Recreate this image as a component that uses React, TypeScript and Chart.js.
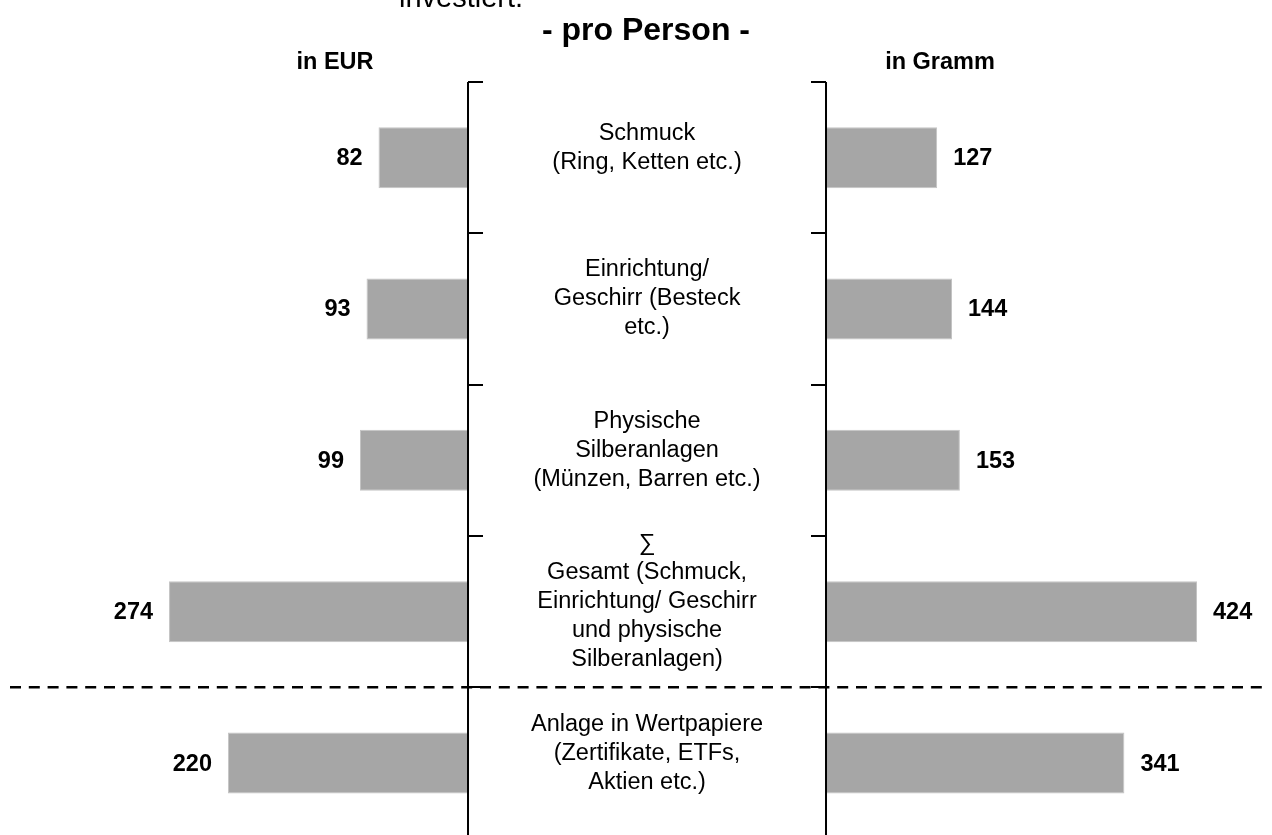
import { useEffect, useRef } from "react";
import { Chart, registerables } from "chart.js";

Chart.register(...registerables);

// ---- data ----
const categoryLines: string[][] = [
  ["Schmuck", "(Ring, Ketten etc.)"],
  ["Einrichtung/", "Geschirr (Besteck", "etc.)"],
  ["Physische", "Silberanlagen", "(Münzen, Barren etc.)"],
  ["∑", "Gesamt (Schmuck,", "Einrichtung/ Geschirr", "und physische", "Silberanlagen)"],
  ["Anlage in Wertpapiere", "(Zertifikate, ETFs,", "Aktien etc.)"],
];
const categories = categoryLines.map((l) => l.join(" "));
const eurValues = [82, 93, 99, 274, 220];
const grammValues = [127, 144, 153, 424, 341];
const leftHeader = "in EUR";
const rightHeader = "in Gramm";
const titleText = "- pro Person -";
const subtitleText = "investiert.";

const FONT = '"Liberation Sans", Arial, Helvetica, sans-serif';
const CANVAS_W = 1272;
const CANVAS_H = 850;

export default function App() {
  const ref = useRef<HTMLCanvasElement | null>(null);

  useEffect(() => {
    document.body.style.margin = "0";
    document.documentElement.style.overflow = "hidden";
    const canvas = ref.current;
    if (!canvas) return;

    const overlay = {
      id: "overlay",
      afterDatasetsDraw(chart: any) {
        const ctx = chart.ctx as CanvasRenderingContext2D;
        const area = chart.chartArea;
        const y = chart.scales.y;
        const xL = chart.scales.xEur;
        const xR = chart.scales.xGram;
        const axisL = xL.getPixelForValue(0);
        const axisR = xR.getPixelForValue(0);
        const n = categories.length;
        ctx.save();

        // dashed separator between totals and securities
        const sepY = y.getPixelForValue(n - 1.5);
        ctx.strokeStyle = "#000";
        ctx.lineWidth = 2.5;
        ctx.setLineDash([11, 7.8]);
        ctx.beginPath();
        ctx.moveTo(10, sepY);
        ctx.lineTo(1266, sepY);
        ctx.stroke();
        ctx.setLineDash([]);

        // axis lines
        ctx.lineWidth = 2;
        ctx.beginPath();
        ctx.moveTo(axisL, area.top);
        ctx.lineTo(axisL, area.bottom + 20);
        ctx.moveTo(axisR, area.top);
        ctx.lineTo(axisR, area.bottom + 20);
        ctx.stroke();
        // ticks at category boundaries
        ctx.lineWidth = 2;
        ctx.beginPath();
        for (let i = 0; i <= n; i++) {
          const ty = Math.round(y.getPixelForValue(i - 0.5));
          ctx.moveTo(axisL, ty);
          ctx.lineTo(axisL + 15, ty);
          ctx.moveTo(axisR - 15, ty);
          ctx.lineTo(axisR, ty);
        }
        ctx.stroke();

        // value labels
        ctx.fillStyle = "#000";
        ctx.font = `bold 23.5px ${FONT}`;
        ctx.textBaseline = "middle";
        const metaL = chart.getDatasetMeta(0);
        const metaR = chart.getDatasetMeta(1);
        metaL.data.forEach((bar: any, i: number) => {
          ctx.textAlign = "right";
          ctx.fillText(String(eurValues[i]), bar.x - 16, bar.y + 1);
        });
        metaR.data.forEach((bar: any, i: number) => {
          ctx.textAlign = "left";
          ctx.fillText(String(grammValues[i]), bar.x + 16, bar.y + 1);
        });

        // category labels in the middle
        const cx = (axisL + axisR) / 2;
        ctx.font = `23.5px ${FONT}`;
        ctx.textAlign = "center";
        const lh = 29;
        categoryLines.forEach((lines, i) => {
          const cy = y.getPixelForValue(i) - 10;
          const start = cy - ((lines.length - 1) * lh) / 2;
          lines.forEach((t, j) => ctx.fillText(t, cx, start + j * lh));
        });

        // headers
        ctx.textBaseline = "alphabetic";
        ctx.font = `bold 23.5px ${FONT}`;
        ctx.textAlign = "center";
        ctx.fillText(leftHeader, 335, 69);
        ctx.fillText(rightHeader, 940, 69);
        ctx.font = `bold 32px ${FONT}`;
        ctx.fillText(titleText, 646, 40);
        ctx.font = `29px ${FONT}`;
        ctx.textAlign = "left";
        ctx.fillText(subtitleText, 399, 7);

        ctx.restore();
      },
    };

    const chart = new Chart(canvas, {
      type: "bar",
      data: {
        labels: categories,
        datasets: [
          {
            label: "EUR",
            data: eurValues,
            xAxisID: "xEur",
            backgroundColor: "#a6a6a6",
            borderColor: "#c4c4c4",
            borderWidth: 1,
            grouped: false,
            barPercentage: 0.403,
            categoryPercentage: 1,
          } as any,
          {
            label: "Gramm",
            data: grammValues,
            xAxisID: "xGram",
            backgroundColor: "#a6a6a6",
            borderColor: "#c4c4c4",
            borderWidth: 1,
            grouped: false,
            barPercentage: 0.403,
            categoryPercentage: 1,
          } as any,
        ],
      },
      options: {
        indexAxis: "y",
        responsive: false,
        animation: false,
        devicePixelRatio: 1,
        layout: { padding: { top: 82, bottom: CANVAS_H - 838.7, left: 0, right: 0 } },
        plugins: { legend: { display: false }, title: { display: false }, tooltip: { enabled: false } },
        scales: {
          y: { type: "category", display: false, offset: true },
          xEur: {
            type: "linear",
            axis: "x",
            position: "bottom",
            display: false,
            reverse: true,
            min: -736.8,
            max: 428.9,
          },
          xGram: {
            type: "linear",
            axis: "x",
            position: "bottom",
            display: false,
            min: -944,
            max: 509.7,
          },
        },
      } as any,
      plugins: [overlay],
    });

    return () => chart.destroy();
  }, []);

  return (
    <div
      style={{
        position: "fixed",
        left: 0,
        top: 0,
        width: CANVAS_W,
        height: 835,
        overflow: "hidden",
        background: "#fff",
      }}
    >
      <canvas ref={ref} width={CANVAS_W} height={CANVAS_H} style={{ display: "block" }} />
    </div>
  );
}
